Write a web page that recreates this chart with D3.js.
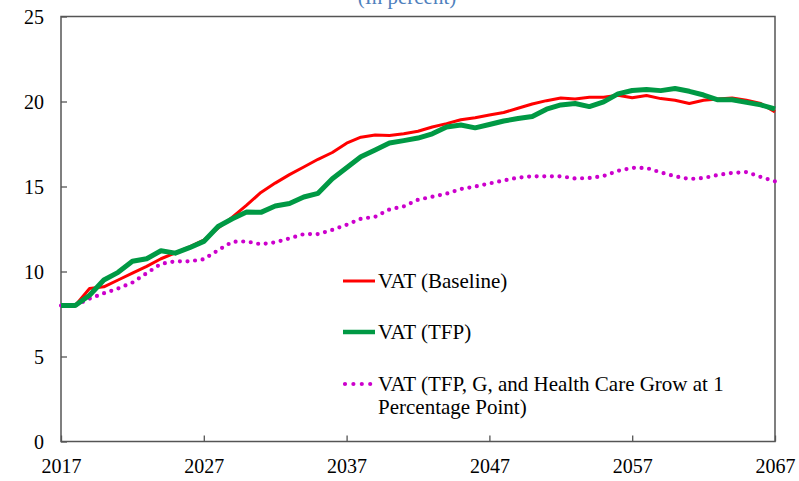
<!DOCTYPE html>
<html>
<head>
<meta charset="utf-8">
<script src="https://cdn.jsdelivr.net/npm/d3@7"></script>
<style>
  body { margin: 0; background: #fff; }
  svg text { font-family: "Liberation Serif", "DejaVu Serif", serif !important; }
</style>
</head>
<body>
<div id="graph"></div>
<script>
const years = d3.range(2017, 2068);

const baseline = [8.0, 8.0, 9.0, 9.1, 9.5, 9.9, 10.3, 10.75, 11.1, 11.45,
  11.85, 12.55, 13.2, 13.9, 14.65, 15.2, 15.7, 16.15, 16.6, 17.0,
  17.55, 17.9, 18.03, 18.0, 18.1, 18.25, 18.5, 18.7, 18.93, 19.05,
  19.2, 19.35, 19.6, 19.85, 20.05, 20.2, 20.15, 20.25, 20.25, 20.37,
  20.22, 20.35, 20.17, 20.07, 19.88, 20.07, 20.15, 20.21, 20.07, 19.88, 19.39];

const tfp = [8.0, 8.0, 8.6, 9.5, 9.95, 10.6, 10.75, 11.22, 11.08, 11.4,
  11.77, 12.65, 13.1, 13.5, 13.48, 13.85, 14.0, 14.38, 14.6, 15.45,
  16.1, 16.75, 17.15, 17.56, 17.7, 17.85, 18.1, 18.5, 18.62, 18.45,
  18.65, 18.85, 19.0, 19.12, 19.55, 19.8, 19.88, 19.7, 19.98, 20.45,
  20.65, 20.7, 20.64, 20.76, 20.6, 20.38, 20.1, 20.1, 19.95, 19.8, 19.56];

const tfpGHealth = [8.0, 8.0, 8.4, 8.72, 9.0, 9.35, 9.9, 10.45, 10.6, 10.6,
  10.72, 11.25, 11.75, 11.77, 11.6, 11.72, 11.95, 12.2, 12.2, 12.45,
  12.75, 13.1, 13.22, 13.65, 13.83, 14.22, 14.4, 14.58, 14.85, 15.0,
  15.18, 15.35, 15.52, 15.6, 15.6, 15.6, 15.47, 15.5, 15.62, 15.92,
  16.1, 16.09, 15.83, 15.6, 15.44, 15.5, 15.68, 15.8, 15.85, 15.56, 15.3];

const xTicks = [2017, 2027, 2037, 2047, 2057, 2067];
const yTicks = [0, 5, 10, 15, 20, 25];

const seriesNames = [
  "VAT (Baseline)",
  "VAT (TFP)",
  "VAT (TFP, G, and Health Care Grow at 1|Percentage Point)"
];

const W = 799, H = 481;
const margin = { top: 16.5, right: 24, bottom: 39.5, left: 61 };
const width = W - margin.left - margin.right;
const height = H - margin.top - margin.bottom;
const serif = "Liberation Serif, DejaVu Serif, serif";

const x = d3.scaleLinear().domain([2017, 2067]).range([0, width]);
const y = d3.scaleLinear().domain([0, 25]).range([height, 0]);

const root = d3.select("#graph").append("svg")
  .attr("width", W)
  .attr("height", H)
  .attr("font-family", serif);

// title, mostly cut off at the top of the picture
root.append("text")
  .attr("x", 407)
  .attr("y", 4)
  .attr("text-anchor", "middle")
  .attr("fill", "#4f81bd")
  .attr("font-family", serif)
  .style("font-size", "21px")
  .text("(In percent)");

const svg = root.append("g")
  .attr("transform", "translate(" + margin.left + "," + margin.top + ")");

const axisColor = "#555";

// y axis, ticks pointing inward
const yAxis = svg.append("g")
  .call(d3.axisLeft(y).tickValues(yTicks).tickSize(-6).tickPadding(17))
  .attr("font-family", serif);
yAxis.select(".domain").remove();
yAxis.selectAll("line").attr("stroke", axisColor).attr("stroke-width", 1.3);
yAxis.selectAll("text")
  .attr("fill", "#000")
  .attr("dy", "0.34em")
  .style("font-size", "20px");

// x axis, ticks pointing up
const xAxis = svg.append("g")
  .attr("transform", "translate(0," + height + ")")
  .call(d3.axisBottom(x).tickValues(xTicks).tickFormat(d3.format("d")).tickSize(-6).tickPadding(17))
  .attr("font-family", serif);
xAxis.select(".domain").remove();
xAxis.selectAll("line").attr("stroke", axisColor).attr("stroke-width", 1.3);
xAxis.selectAll("text")
  .attr("fill", "#000")
  .style("font-size", "20px");

// plot frame
svg.append("rect")
  .attr("x", 0)
  .attr("y", 0)
  .attr("width", width)
  .attr("height", height)
  .attr("fill", "none")
  .attr("stroke", axisColor)
  .attr("stroke-width", 1.5);

const series = [
  { name: seriesNames[0], values: baseline, color: "#ff0000", sw: 3, dash: null },
  { name: seriesNames[1], values: tfp, color: "#009944", sw: 5, dash: null },
  { name: seriesNames[2], values: tfpGHealth, color: "#cc00cc", sw: 4.2, dash: "0 7.6" }
];

const line = d3.line()
  .x((d, i) => x(years[i]))
  .y(d => y(d));

// dotted first, then red, green on top
[series[2], series[0], series[1]].forEach(s => {
  svg.append("path")
    .datum(s.values)
    .attr("fill", "none")
    .attr("stroke", s.color)
    .attr("stroke-width", s.sw)
    .attr("stroke-linejoin", "round")
    .attr("stroke-linecap", s.dash ? "round" : "butt")
    .attr("stroke-dasharray", s.dash)
    .attr("d", line);
});

// legend
const legend = root.append("g").attr("transform", "translate(343,0)");
const legendY = [281, 332, 384];
series.forEach((s, i) => {
  legend.append("line")
    .attr("x1", s.dash ? 2 : 0)
    .attr("x2", 32)
    .attr("y1", legendY[i])
    .attr("y2", legendY[i])
    .attr("stroke", s.color)
    .attr("stroke-width", s.dash ? 4.2 : (i === 1 ? 4.5 : 3))
    .attr("stroke-linecap", s.dash ? "round" : "butt")
    .attr("stroke-dasharray", s.dash ? "0 8.4" : null);
  const parts = s.name.split("|");
  const t = legend.append("text")
    .attr("x", 35)
    .attr("y", legendY[i] + 6.5)
    .attr("font-family", serif)
    .style("font-size", "21px")
    .attr("fill", "#000");
  parts.forEach((p, j) => {
    t.append("tspan")
      .attr("x", 35)
      .attr("dy", j === 0 ? 0 : 23)
      .text(p);
  });
});
</script>
</body>
</html>
